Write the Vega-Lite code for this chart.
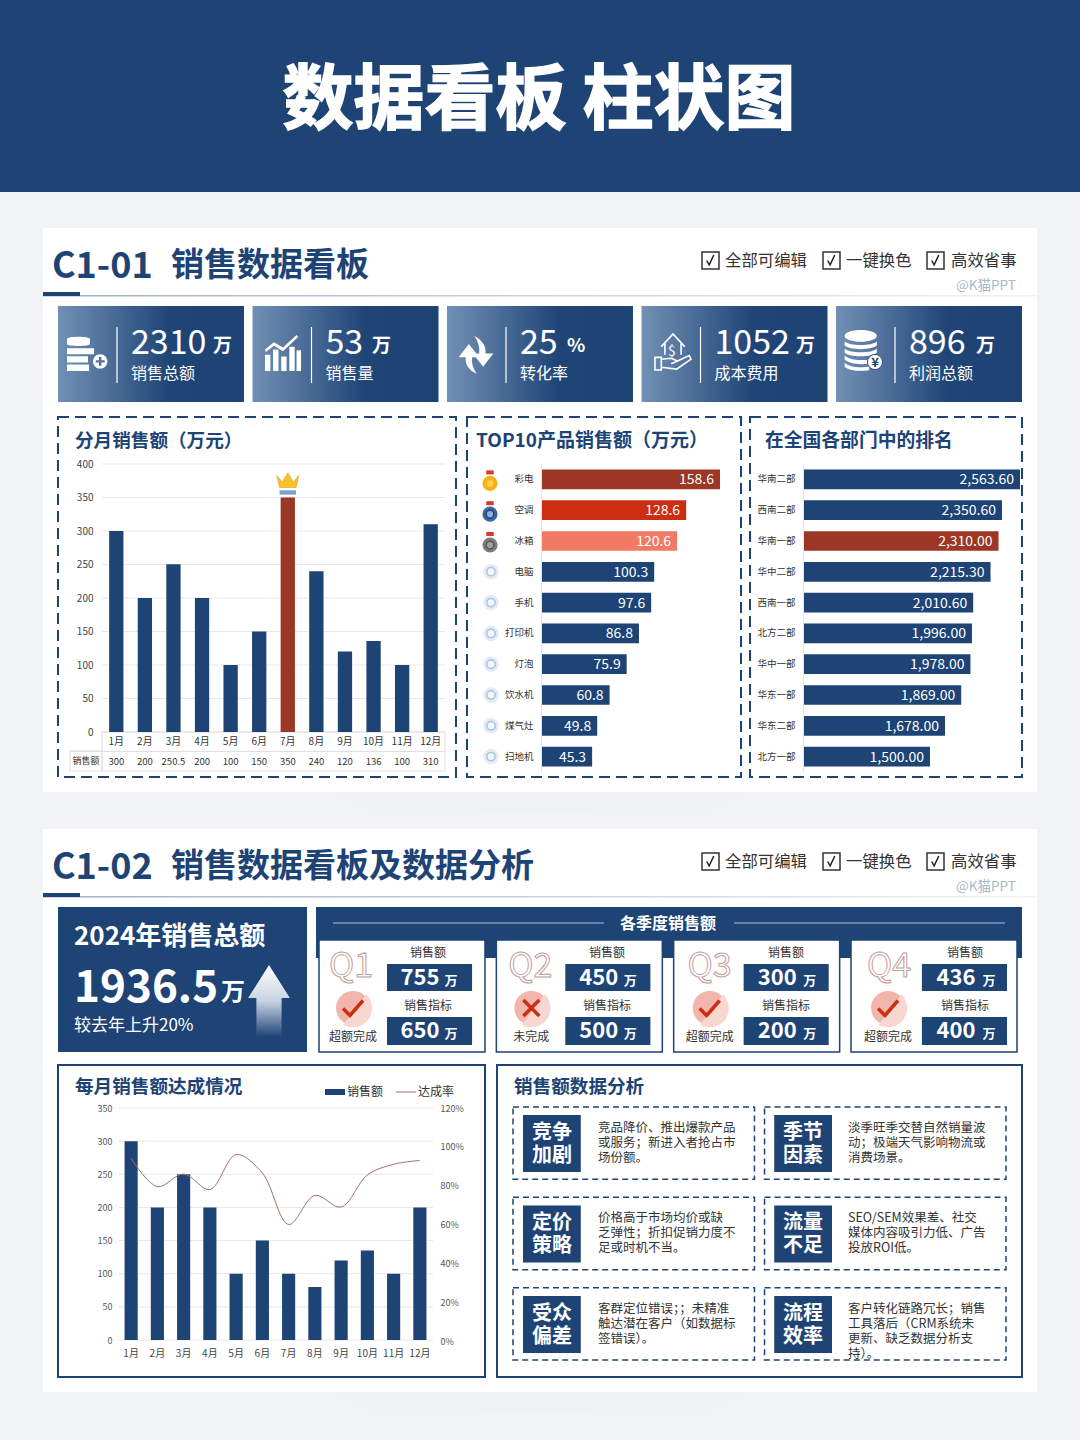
{
"$schema":"https://vega.github.io/schema/vega-lite/v6.json",
"width":1080,"height":1440,"padding":0,
"autosize":{"type":"none"},
"background":"#f2f3f5",
"data":{"values":[{"page":"看板"}]},
"config":{"font":"Noto Sans CJK SC","view":{"stroke":null},"axis":{"disable":true},"legend":{"disable":true},"text":{"baseline":"alphabetic","align":"left"},"point":{"opacity":1}},
"datasets":{
"cards":[{"card":"C1-01","name":"销售数据看板"},{"card":"C1-02","name":"销售数据看板及数据分析"}],
"kpi":[{"kpi":"销售总额","value":"2310"},{"kpi":"销售量","value":"53"},{"kpi":"转化率","value":"25"},{"kpi":"成本费用","value":"1052"},{"kpi":"利润总额","value":"896"}],
"m1":[{"month":"1月","sales":300},{"month":"2月","sales":200},{"month":"3月","sales":250.5},{"month":"4月","sales":200},{"month":"5月","sales":100},{"month":"6月","sales":150},{"month":"7月","sales":350},{"month":"8月","sales":240},{"month":"9月","sales":120},{"month":"10月","sales":136},{"month":"11月","sales":100},{"month":"12月","sales":310}],
"t1":[{"v":0},{"v":50},{"v":100},{"v":150},{"v":200},{"v":250},{"v":300},{"v":350},{"v":400}],
"t2":[{"v":0},{"v":50},{"v":100},{"v":150},{"v":200},{"v":250},{"v":300},{"v":350}],
"prod":[{"product":"彩电","sales":158.6,"tier":"冠军"},{"product":"空调","sales":128.6,"tier":"亚军"},{"product":"冰箱","sales":120.6,"tier":"季军"},{"product":"电脑","sales":100.3,"tier":"其他"},{"product":"手机","sales":97.6,"tier":"其他"},{"product":"打印机","sales":86.8,"tier":"其他"},{"product":"灯泡","sales":75.9,"tier":"其他"},{"product":"饮水机","sales":60.8,"tier":"其他"},{"product":"煤气灶","sales":49.8,"tier":"其他"},{"product":"扫地机","sales":45.3,"tier":"其他"}],
"dept":[{"dept":"华南二部","sales":2563.6},{"dept":"西南二部","sales":2350.6},{"dept":"华南一部","sales":2310},{"dept":"华中二部","sales":2215.3},{"dept":"西南一部","sales":2010.6},{"dept":"北方二部","sales":1996},{"dept":"华中一部","sales":1978},{"dept":"华东一部","sales":1869},{"dept":"华东二部","sales":1678},{"dept":"北方一部","sales":1500}],
"q":[{"q":"Q1","sales":"755","target":"650","status":"超额完成"},{"q":"Q2","sales":"450","target":"500","status":"未完成"},{"q":"Q3","sales":"300","target":"200","status":"超额完成"},{"q":"Q4","sales":"436","target":"400","status":"超额完成"}],
"m2":[{"month":"1月","sales":300,"rate":0.94},{"month":"2月","sales":200,"rate":0.795},{"month":"3月","sales":250,"rate":0.86},{"month":"4月","sales":200,"rate":0.78},{"month":"5月","sales":100,"rate":0.96},{"month":"6月","sales":150,"rate":0.865},{"month":"7月","sales":100,"rate":0.6},{"month":"8月","sales":80,"rate":0.75},{"month":"9月","sales":120,"rate":0.69},{"month":"10月","sales":135,"rate":0.855},{"month":"11月","sales":100,"rate":0.91},{"month":"12月","sales":200,"rate":0.93}],
"why":[
{"col":"左","row":"一","head":["竞争","加剧"],"body":["竞品降价、推出爆款产品","或服务；新进入者抢占市","场份额。"]},
{"col":"右","row":"一","head":["季节","因素"],"body":["淡季旺季交替自然销量波","动；极端天气影响物流或","消费场景。"]},
{"col":"左","row":"二","head":["定价","策略"],"body":[" 价格高于市场均价或缺","乏弹性；折扣促销力度不","足或时机不当。"]},
{"col":"右","row":"二","head":["流量","不足"],"body":["SEO/SEM效果差、社交","媒体内容吸引力低、广告","投放ROI低。"]},
{"col":"左","row":"三","head":["受众","偏差"],"body":["客群定位错误；；未精准","触达潜在客户（如数据标","签错误）。"]},
{"col":"右","row":"三","head":["流程","效率"],"body":["客户转化链路冗长；销售","工具落后（CRM系统未","更新、缺乏数据分析支","持）。"]}
]},
"layer":[
{"mark":{"type":"rect","x":0,"x2":1080,"y":0,"y2":192,"fill":"#1e4375"}},
{"mark":{"type":"text","text":"数据看板 柱状图","x":539,"y":123,"align":"center","fontSize":71,"fontWeight":"bold","fill":"white","stroke":"white","strokeWidth":1.5}},
{"mark":{"type":"rect","x":110,"x2":970,"y":792,"y2":814,"fill":{"gradient":"radial","x1":0.5,"y1":0,"r1":0,"x2":0.5,"y2":0,"r2":0.55,"stops":[{"offset":0,"color":"#d9dadd"},{"offset":1,"color":"#f2f3f5"}]}}},
{"mark":{"type":"rect","x":110,"x2":970,"y":1392,"y2":1414,"fill":{"gradient":"radial","x1":0.5,"y1":0,"r1":0,"x2":0.5,"y2":0,"r2":0.55,"stops":[{"offset":0,"color":"#d9dadd"},{"offset":1,"color":"#f2f3f5"}]}}},
{"mark":{"type":"rect","x":43,"x2":1037,"y":228,"y2":792,"fill":"white"}},
{"mark":{"type":"rect","x":43,"x2":1037,"y":829,"y2":1392,"fill":"white"}},

{"data":{"name":"cards"},"encoding":{"y":{"field":"card","type":"nominal","sort":null,"scale":{"type":"point","range":[278,879],"padding":0}}},"layer":[
{"mark":{"type":"text","x":52,"fontSize":36,"fontWeight":"bold","fill":"#1e4375"},"encoding":{"text":{"field":"card"}}}
]},
{"data":{"name":"cards"},"encoding":{"y":{"field":"card","type":"nominal","sort":null,"scale":{"type":"point","range":[276,877],"padding":0}}},"layer":[
{"mark":{"type":"text","x":171,"fontSize":33,"fontWeight":"bold","fill":"#1e4375"},"encoding":{"text":{"field":"name"}}}
]},
{"mark":{"type":"rect","x":43,"x2":1037,"y":295,"y2":296.5,"fill":{"gradient":"linear","x1":0,"y1":0,"x2":1,"y2":0,"stops":[{"offset":0,"color":"#9fb0c5"},{"offset":1,"color":"#f2f3f5"}]}}},
{"mark":{"type":"rect","x":43,"x2":1037,"y":896,"y2":897.5,"fill":{"gradient":"linear","x1":0,"y1":0,"x2":1,"y2":0,"stops":[{"offset":0,"color":"#9fb0c5"},{"offset":1,"color":"#f2f3f5"}]}}},
{"data":{"name":"cards"},"mark":{"type":"rule","x":43,"x2":80,"strokeWidth":4,"stroke":"#1e4375"},"encoding":{"y":{"field":"card","type":"nominal","sort":null,"scale":{"type":"point","range":[294,895],"padding":0}}}},
{"data":{"name":"cards"},"encoding":{"y":{"field":"card","type":"nominal","sort":null,"scale":{"type":"point","range":[260.5,861.5],"padding":0}}},"layer":[
{"mark":{"type":"point","shape":"square","x":710.5,"size":289,"filled":true,"fill":"white","stroke":"#333","strokeWidth":1.5}},
{"mark":{"type":"point","shape":"square","x":831.5,"size":289,"filled":true,"fill":"white","stroke":"#333","strokeWidth":1.5}},
{"mark":{"type":"point","shape":"square","x":935.5,"size":289,"filled":true,"fill":"white","stroke":"#333","strokeWidth":1.5}},
{"mark":{"type":"point","shape":"M-.7,0L-.25,.8L.6,-1","x":710.5,"size":120,"filled":false,"stroke":"#222","strokeWidth":1.5}},
{"mark":{"type":"point","shape":"M-.7,0L-.25,.8L.6,-1","x":831.5,"size":120,"filled":false,"stroke":"#222","strokeWidth":1.5}},
{"mark":{"type":"point","shape":"M-.7,0L-.25,.8L.6,-1","x":935.5,"size":120,"filled":false,"stroke":"#222","strokeWidth":1.5}}
]},
{"data":{"name":"cards"},"encoding":{"y":{"field":"card","type":"nominal","sort":null,"scale":{"type":"point","range":[266,867],"padding":0}}},"layer":[
{"mark":{"type":"text","text":"全部可编辑","x":725,"fontSize":16.4,"fill":"#333"}},
{"mark":{"type":"text","text":"一键换色","x":846,"fontSize":16.4,"fill":"#333"}},
{"mark":{"type":"text","text":"高效省事","x":951,"fontSize":16.4,"fill":"#333"}}
]},
{"data":{"name":"cards"},"mark":{"type":"text","text":"@K猫PPT","x":956,"fontSize":13.5,"fill":"#a9b7c9"},"encoding":{"y":{"field":"card","type":"nominal","sort":null,"scale":{"type":"point","range":[290,891],"padding":0}}}},

{"data":{"name":"kpi"},"mark":{"type":"bar","y":306,"y2":402,"fill":{"gradient":"linear","x1":0,"y1":0,"x2":1,"y2":0,"stops":[{"offset":0,"color":"#7190b4"},{"offset":0.6,"color":"#1f4577"},{"offset":1,"color":"#1e4375"}]}},"encoding":{"x":{"field":"kpi","type":"nominal","sort":null,"scale":{"range":[58,1022],"paddingInner":0.0437,"paddingOuter":0}}}},
{"data":{"name":"kpi"},"mark":{"type":"rule","y":327,"y2":383,"stroke":"white","strokeWidth":1.2},"encoding":{"x":{"field":"kpi","type":"nominal","sort":null,"scale":{"type":"point","range":[117,895],"padding":0}}}},
{"data":{"name":"kpi"},"encoding":{"x":{"field":"kpi","type":"nominal","sort":null,"scale":{"type":"point","range":[131,909],"padding":0}}},"layer":[
{"mark":{"type":"text","y":354,"align":"left","fontSize":34,"fill":"white"},"encoding":{"text":{"field":"value"}}},
{"mark":{"type":"text","y":379,"align":"left","fontSize":16,"fill":"white"},"encoding":{"text":{"field":"kpi"}}}
]},
{"mark":{"type":"text","text":"万","x":213,"y":352,"fontSize":19,"fontWeight":"bold","fill":"white"}},
{"mark":{"type":"text","text":"万","x":372,"y":352,"fontSize":19,"fontWeight":"bold","fill":"white"}},
{"mark":{"type":"text","text":"%","x":567,"y":352,"fontSize":19,"fontWeight":"bold","fill":"white"}},
{"mark":{"type":"text","text":"万","x":796,"y":352,"fontSize":19,"fontWeight":"bold","fill":"white"}},
{"mark":{"type":"text","text":"万","x":976,"y":352,"fontSize":19,"fontWeight":"bold","fill":"white"}},
{"mark":{"type":"point","x":87,"y":355,"size":1600,"filled":true,"fill":"white","shape":"M-1,-.8C-1,-.95 .15,-.95 .15,-.8V-.55C.15,-.42 -1,-.42 -1,-.55Z M-1,-.34H.35V-.04H-1Z M-1,.06H.05V.38H-1Z M-1,.48H.1V.8H-1Z M.3,.32A.36,.36 0 1 1 1.02,.32A.36,.36 0 1 1 .3,.32Z M.6,.1V.26H.44V.38H.6V.54H.72V.38H.88V.26H.72V.1Z"}},
{"mark":{"type":"point","x":283,"y":353,"size":1300,"filled":true,"fill":"white","shape":"M-1,1V.1H-.7V1Z M-.55,1V-.2H-.25V1Z M-.1,1V.2H.2V1Z M.35,1V-.35H.65V1Z M.75,1V-.15H1V1Z M-1,-.2L-.5,-.6L0,-.3L.75,-1L.85,-.9L0,-.1L-.5,-.4L-.95,-.05Z"}},
{"mark":{"type":"point","x":476,"y":355,"size":1000,"filled":true,"fill":"white","shape":"M-.1,-1.2C.45,-.9 .65,-.5 .6,-.1H1.1L.45,.75L-.2,-.1H.2C.25,-.45 .15,-.85 -.1,-1.2Z M.05,1.2C-.5,.95 -.7,.55 -.65,.15H-1.1L-.45,-.7L.2,.15H-.25C-.3,.5 -.2,.85 .05,1.2Z"}},
{"mark":{"type":"point","x":673,"y":352,"size":1300,"filled":false,"stroke":"white","strokeWidth":1.6,"shape":"M-.65,-.3L0,-1L.65,-.3 M-.45,-.5V.15M.45,-.5V.15 M-1,.3H-.65V1H-1Z M-.65,.4L-.1,.35L.25,.5L-.1,.65 M.25,.5L.9,.2L1,.4L.2,.95L-.65,.85"}},
{"mark":{"type":"text","text":"$","x":668,"y":356,"fontSize":14,"fill":"white"}},
{"mark":{"type":"point","x":867,"y":352,"size":2000,"filled":true,"fill":"white","shape":"M-1,-.72A.72,.26 0 0 1 .44,-.72A.72,.26 0 0 1 -1,-.72Z M-1,-.48C-.8,-.25 .24,-.25 .44,-.48V-.3C.24,-.07 -.8,-.07 -1,-.3Z M-1,-.16C-.8,.07 .24,.07 .44,-.16V.02C.24,.25 -.8,.25 -1,.02Z M-1,.16C-.8,.38 -.2,.4 .1,.32V.5C-.2,.58 -.8,.56 -1,.34Z M-1,.48C-.8,.7 -.2,.72 .1,.64V.8C-.2,.88 -.8,.86 -1,.66Z"}},
{"mark":{"type":"point","x":875,"y":362,"size":230,"shape":"circle","filled":true,"fill":"white","stroke":"#2b5084","strokeWidth":1}},
{"mark":{"type":"text","text":"¥","x":875,"y":367,"align":"center","fontSize":13,"fontWeight":"bold","fill":"#1e4375"}},

{"mark":{"type":"rect","x":58,"x2":456,"y":417,"y2":777,"fill":"white","stroke":"#1e4375","strokeWidth":2,"strokeDash":[11,6]}},
{"mark":{"type":"rect","x":467,"x2":741,"y":417,"y2":777,"fill":"white","stroke":"#1e4375","strokeWidth":2,"strokeDash":[11,6]}},
{"mark":{"type":"rect","x":750,"x2":1022,"y":417,"y2":777,"fill":"white","stroke":"#1e4375","strokeWidth":2,"strokeDash":[11,6]}},
{"mark":{"type":"text","text":"分月销售额（万元）","x":75,"y":447,"fontSize":18.6,"fontWeight":"bold","fill":"#1e4375"}},
{"mark":{"type":"text","text":"TOP10产品销售额（万元）","x":476,"y":447,"fontSize":19,"fontWeight":"bold","fill":"#1e4375"}},
{"mark":{"type":"text","text":"在全国各部门中的排名","x":765,"y":447,"fontSize":18.8,"fontWeight":"bold","fill":"#1e4375"}},

{"data":{"name":"t1"},"mark":{"type":"rule","x":102,"x2":445,"stroke":"#e8e8e8","strokeWidth":1},"encoding":{"y":{"field":"v","type":"quantitative","scale":{"domain":[0,400],"range":[732,464]},"axis":{"disable":false,"orient":"left","offset":-102,"values":[0,50,100,150,200,250,300,350,400],"domain":false,"ticks":false,"grid":false,"labelPadding":9,"labelFontSize":10,"labelColor":"#444","title":null,"zindex":1}}}},
{"mark":{"type":"rect","x":102,"x2":445,"y":732,"y2":771,"fill":"transparent","stroke":"#dfdfdf"}},
{"mark":{"type":"rect","x":70,"x2":102,"y":751,"y2":771,"fill":"transparent","stroke":"#dfdfdf"}},
{"mark":{"type":"rect","x":70,"x2":445,"y":751,"y2":752,"fill":"#dfdfdf"}},
{"mark":{"type":"text","text":"销售额","x":86,"y":764,"align":"center","fontSize":9,"fill":"#333"}},
{"data":{"name":"m1"},"encoding":{"x":{"field":"month","type":"nominal","sort":null,"scale":{"range":[102,445],"paddingInner":0.5,"paddingOuter":0.25},"axis":{"disable":false,"orient":"bottom","offset":-708,"domain":false,"ticks":false,"labelAngle":0,"labelPadding":4,"labelFontSize":10,"labelColor":"#333","title":null,"zindex":1}}},"layer":[
{"mark":{"type":"bar"},"encoding":{"y":{"field":"sales","type":"quantitative","scale":{"domain":[0,400],"range":[732,464]}},"color":{"condition":{"test":"datum.month==='7月'","value":"#9c3626"},"value":"#1e4375"}}},
{"mark":{"type":"text","y":765,"align":"center","fontSize":9.5,"fill":"#333"},"encoding":{"text":{"field":"sales"}}},
{"transform":[{"filter":"datum.month==='7月'"}],"mark":{"type":"point","yOffset":-16,"size":484,"filled":true,"fill":"#f6c12d","stroke":"#e39a1a","strokeWidth":0.6,"shape":"M-1,-.55L-.5,.05L0,-.8L.5,.05L1,-.55L.75,.55H-.75Z"},"encoding":{"y":{"field":"sales","type":"quantitative","scale":{"domain":[0,400],"range":[732,464]}}}},
{"transform":[{"filter":"datum.month==='7月'"}],"mark":{"type":"point","yOffset":-5,"size":484,"filled":true,"fill":"#7ea4c9","shape":"M-.75,-.2H.75V.2H-.75Z"},"encoding":{"y":{"field":"sales","type":"quantitative","scale":{"domain":[0,400],"range":[732,464]}}}}
]},

{"data":{"name":"prod"},"encoding":{"y":{"field":"product","type":"nominal","sort":null,"scale":{"range":[464,772],"paddingInner":0.36,"paddingOuter":0.18},"axis":{"disable":false,"orient":"left","offset":-541,"ticks":false,"domainColor":"#e4e4e4","labelPadding":8,"labelFontSize":9.5,"labelColor":"#333","title":null,"zindex":1}},"x":{"field":"sales","type":"quantitative","scale":{"domain":[0,158.6],"range":[541,720]}}},"layer":[
{"mark":{"type":"bar"},"encoding":{"color":{"field":"tier","type":"nominal","scale":{"domain":["冠军","亚军","季军","其他"],"range":["#9c3626","#cc2e12","#f07a66","#1e4375"]}}}},
{"mark":{"type":"text","align":"right","dx":-6,"dy":5,"fontSize":14,"fill":"white"},"encoding":{"text":{"field":"sales","format":".1f"}}}
]},
{"data":{"name":"prod"},"encoding":{"y":{"field":"product","type":"nominal","sort":null,"scale":{"range":[464,772],"paddingInner":0.36,"paddingOuter":0.18}}},"layer":[
{"transform":[{"filter":"datum.tier!=='其他'"}],"mark":{"type":"point","x":490,"yOffset":-7,"size":100,"filled":true,"fill":"#d9382a","shape":"M-.75,-.4H.75V.4H-.75Z"}},
{"transform":[{"filter":"datum.tier!=='其他'"}],"mark":{"type":"point","x":490,"yOffset":4,"size":230,"shape":"circle","filled":true},"encoding":{"color":{"field":"tier","type":"nominal","scale":{"domain":["冠军","亚军","季军"],"range":["#f6b11c","#3f659c","#7d7d7d"]}}}},
{"transform":[{"filter":"datum.tier==='其他'"}],"mark":{"type":"point","x":491,"size":240,"shape":"circle","filled":true,"fill":"#e3ebf7"}},
{"transform":[{"filter":"datum.tier==='其他'"}],"mark":{"type":"point","x":491,"size":70,"shape":"circle","filled":true,"fill":"#f4f7fc","stroke":"#a9c2e6","strokeWidth":1.5}}
]},
{"data":{"name":"prod"},"transform":[{"filter":"datum.tier!=='其他'"}],"mark":{"type":"point","x":490,"yOffset":4,"size":60,"shape":"circle","filled":true,"strokeWidth":1.5},"encoding":{"y":{"field":"product","type":"nominal","sort":null,"scale":{"domain":["彩电","空调","冰箱","电脑","手机","打印机","灯泡","饮水机","煤气灶","扫地机"],"range":[464,772],"paddingInner":0.36,"paddingOuter":0.18}},"color":{"field":"tier","type":"nominal","scale":{"domain":["冠军","亚军","季军"],"range":["#ffd34d","#8fb0dc","#a0a0a0"]}},"stroke":{"field":"tier","type":"nominal","scale":{"domain":["冠军","亚军","季军"],"range":["#f6b11c","#1e4375","#555555"]}}}},

{"data":{"name":"dept"},"encoding":{"y":{"field":"dept","type":"nominal","sort":null,"scale":{"range":[464,772],"paddingInner":0.36,"paddingOuter":0.18},"axis":{"disable":false,"orient":"left","offset":-803,"ticks":false,"domainColor":"#e4e4e4","labelPadding":8,"labelFontSize":9.5,"labelColor":"#333","title":null,"zindex":1}},"x":{"field":"sales","type":"quantitative","scale":{"domain":[0,2563.6],"range":[803,1020]}}},"layer":[
{"mark":{"type":"bar"},"encoding":{"color":{"condition":{"test":"datum.dept==='华南一部'","value":"#9c3626"},"value":"#1e4375"}}},
{"mark":{"type":"text","align":"right","dx":-6,"dy":5,"fontSize":14,"fill":"white"},"encoding":{"text":{"field":"sales","format":",.2f"}}}
]},

{"mark":{"type":"rect","x":58,"x2":307,"y":907,"y2":1052,"fill":"#1e4375"}},
{"mark":{"type":"text","text":"2024年销售总额","x":74,"y":945,"fontSize":26,"fontWeight":"bold","fill":"white"}},
{"mark":{"type":"text","text":"1936.5","x":74,"y":1002,"fontSize":44,"fontWeight":"bold","fill":"white"}},
{"mark":{"type":"text","text":"万","x":221,"y":1000,"fontSize":24,"fontWeight":"bold","fill":"white"}},
{"mark":{"type":"text","text":"较去年上升20%","x":74,"y":1031,"fontSize":17,"fill":"white"}},
{"mark":{"type":"point","x":269,"y":1001,"size":5184,"filled":true,"fill":{"gradient":"linear","x1":0,"y1":0,"x2":0,"y2":1,"stops":[{"offset":0,"color":"#ffffff"},{"offset":0.5,"color":"#c7d3e3"},{"offset":1,"color":"#1e4375"}]},"shape":"M0,-1L.58,-.08H.35V1H-.35V-.08H-.58Z"}},
{"mark":{"type":"rect","x":316,"x2":1022,"y":907,"y2":958,"fill":"#1e4375"}},
{"mark":{"type":"text","text":"各季度销售额","x":668,"y":929,"align":"center","fontSize":16,"fontWeight":"bold","fill":"white"}},
{"mark":{"type":"rect","x":333,"x2":604,"y":922.5,"y2":923.5,"fill":"#a9bfdc"}},
{"mark":{"type":"rect","x":734,"x2":1005,"y":922.5,"y2":923.5,"fill":"#a9bfdc"}},

{"data":{"name":"q"},"mark":{"type":"bar","y":940,"y2":1052,"fill":"white","stroke":"#1e4375","strokeWidth":1.5},"encoding":{"x":{"field":"q","type":"nominal","sort":null,"scale":{"range":[319,1017],"paddingInner":0.064,"paddingOuter":0}}}},
{"data":{"name":"q"},"encoding":{"x":{"field":"q","type":"nominal","sort":null,"scale":{"range":[387,1007],"paddingInner":0.523,"paddingOuter":0}}},"layer":[
{"mark":{"type":"bar","y":964,"y2":991,"fill":"#1e4375"}},
{"mark":{"type":"bar","y":1017,"y2":1045,"fill":"#1e4375"}}
]},
{"data":{"name":"q"},"encoding":{"x":{"field":"q","type":"nominal","sort":null,"scale":{"type":"point","range":[428,965],"padding":0}}},"layer":[
{"mark":{"type":"text","text":"销售额","y":957,"align":"center","fontSize":12,"fill":"#333"}},
{"mark":{"type":"text","text":"销售指标","y":1010,"align":"center","fontSize":12,"fill":"#333"}}
]},
{"data":{"name":"q"},"encoding":{"x":{"field":"q","type":"nominal","sort":null,"scale":{"type":"point","range":[420,956],"padding":0}}},"layer":[
{"mark":{"type":"text","y":985,"align":"center","fontSize":22,"fontWeight":"bold","fill":"white"},"encoding":{"text":{"field":"sales"}}},
{"mark":{"type":"text","y":1038,"align":"center","fontSize":22,"fontWeight":"bold","fill":"white"},"encoding":{"text":{"field":"target"}}}
]},
{"data":{"name":"q"},"encoding":{"x":{"field":"q","type":"nominal","sort":null,"scale":{"type":"point","range":[451,989],"padding":0}}},"layer":[
{"mark":{"type":"text","text":"万","y":985,"align":"center","fontSize":13,"fontWeight":"bold","fill":"white"}},
{"mark":{"type":"text","text":"万","y":1038,"align":"center","fontSize":13,"fontWeight":"bold","fill":"white"}}
]},
{"data":{"name":"q"},"encoding":{"x":{"field":"q","type":"nominal","sort":null,"scale":{"type":"point","range":[351,889],"padding":0}}},"layer":[
{"mark":{"type":"text","y":977,"align":"center","fontSize":34,"fill":"white","stroke":"#c49a95","strokeWidth":1},"encoding":{"text":{"field":"q"}}}
]},
{"data":{"name":"q"},"encoding":{"x":{"field":"q","type":"nominal","sort":null,"scale":{"type":"point","range":[353,888],"padding":0}}},"layer":[
{"mark":{"type":"point","y":1008,"size":1156,"shape":"circle","filled":true,"fill":"#f2b5ab"}},
{"mark":{"type":"point","y":1008,"size":1475,"filled":true,"fill":"#f9d7d1","shape":"M.7,-.71A1,1 0 0 1 -.5,.87Z"}},
{"mark":{"type":"point","y":1008,"size":400,"filled":false,"stroke":"#cc2e12","strokeWidth":3.5},"encoding":{"shape":{"field":"status","type":"nominal","scale":{"domain":["超额完成","未完成"],"range":["M-1,.05L-.3,.75L1,-.75","M-.8,-.8L.8,.8M.8,-.8L-.8,.8"]}}}},
{"mark":{"type":"text","y":1041,"align":"center","fontSize":12,"fill":"#333"},"encoding":{"text":{"field":"status"}}}
]},

{"mark":{"type":"rect","x":58,"x2":485,"y":1065,"y2":1377,"fill":"white","stroke":"#1e4375","strokeWidth":2}},
{"mark":{"type":"rect","x":497,"x2":1022,"y":1065,"y2":1377,"fill":"white","stroke":"#1e4375","strokeWidth":2}},
{"mark":{"type":"text","text":"每月销售额达成情况","x":75,"y":1093,"fontSize":18.6,"fontWeight":"bold","fill":"#1e4375"}},
{"mark":{"type":"text","text":"销售额数据分析","x":514,"y":1093,"fontSize":18.6,"fontWeight":"bold","fill":"#1e4375"}},
{"mark":{"type":"rect","x":325,"x2":345,"y":1089,"y2":1095,"fill":"#1e4375"}},
{"mark":{"type":"text","text":"销售额","x":347,"y":1096,"fontSize":12,"fill":"#333"}},
{"mark":{"type":"rect","x":396,"x2":416,"y":1091.5,"y2":1092.5,"fill":"#a56f66"}},
{"mark":{"type":"text","text":"达成率","x":418,"y":1096,"fontSize":12,"fill":"#333"}},
{"data":{"name":"t2"},"mark":{"type":"rule","x":118,"x2":433,"stroke":"#e8e8e8","strokeWidth":1},"encoding":{"y":{"field":"v","type":"quantitative","scale":{"domain":[0,350],"range":[1340,1108]},"axis":{"disable":false,"orient":"left","offset":-118,"values":[0,50,100,150,200,250,300,350],"domain":false,"ticks":false,"grid":false,"labelPadding":6,"labelFontSize":9,"labelColor":"#555","title":null,"zindex":1}}}},
{"data":{"name":"m2"},"mark":{"type":"bar","color":"#1e4375"},"encoding":{"x":{"field":"month","type":"nominal","sort":null,"scale":{"range":[118,433],"paddingInner":0.5,"paddingOuter":0.25},"axis":{"disable":false,"orient":"bottom","offset":-100,"domain":false,"ticks":false,"labelAngle":0,"labelPadding":8,"labelFontSize":10,"labelColor":"#444","title":null,"zindex":1}},"y":{"field":"sales","type":"quantitative","scale":{"domain":[0,350],"range":[1340,1108]}}}},
{"data":{"name":"m2"},"mark":{"type":"line","interpolate":"catmull-rom","stroke":"#a56f66","strokeWidth":1},"encoding":{"x":{"field":"month","type":"nominal","sort":null,"scale":{"type":"band","range":[118,433],"paddingInner":0.5,"paddingOuter":0.25}},"y":{"field":"rate","type":"quantitative","scale":{"domain":[0,1.2],"range":[1341,1108]},"axis":{"disable":false,"orient":"right","offset":-640,"values":[0,0.2,0.4,0.6,0.8,1,1.2],"format":".0%","domain":false,"ticks":false,"grid":false,"labelPadding":0,"labelFontSize":9,"labelColor":"#555","title":null,"zindex":1}}}},

{"data":{"name":"why"},"mark":{"type":"rect","fill":"transparent","stroke":"#1e4375","strokeWidth":1.5,"strokeDash":[6,4]},"encoding":{"x":{"field":"col","type":"nominal","sort":null,"scale":{"range":[513,1006],"paddingInner":0.04,"paddingOuter":0}},"y":{"field":"row","type":"nominal","sort":null,"scale":{"range":[1107,1360],"paddingInner":0.2,"paddingOuter":0}}}},
{"data":{"name":"why"},"mark":{"type":"rect","fill":"#1e4375"},"encoding":{"x":{"field":"col","type":"nominal","sort":null,"scale":{"range":[523,832],"paddingInner":0.77,"paddingOuter":0}},"y":{"field":"row","type":"nominal","sort":null,"scale":{"range":[1115,1353],"paddingInner":0.37,"paddingOuter":0}}}},
{"data":{"name":"why"},"mark":{"type":"text","align":"center","fontSize":20,"fontWeight":"bold","fill":"white","lineHeight":23},"encoding":{"text":{"field":"head"},"x":{"field":"col","type":"nominal","sort":null,"scale":{"type":"point","range":[552,803],"padding":0}},"y":{"field":"row","type":"nominal","sort":null,"scale":{"type":"point","range":[1139,1319.5],"padding":0}}}},
{"data":{"name":"why"},"mark":{"type":"text","align":"left","fontSize":12.5,"fill":"#333","lineHeight":15},"encoding":{"text":{"field":"body"},"x":{"field":"col","type":"nominal","sort":null,"scale":{"type":"point","range":[598,848],"padding":0}},"y":{"field":"row","type":"nominal","sort":null,"scale":{"type":"point","range":[1132,1312.5],"padding":0}}}}
],
"resolve":{"scale":{"x":"independent","y":"independent","color":"independent","shape":"independent","stroke":"independent"},"axis":{"x":"independent","y":"independent"}}
}
